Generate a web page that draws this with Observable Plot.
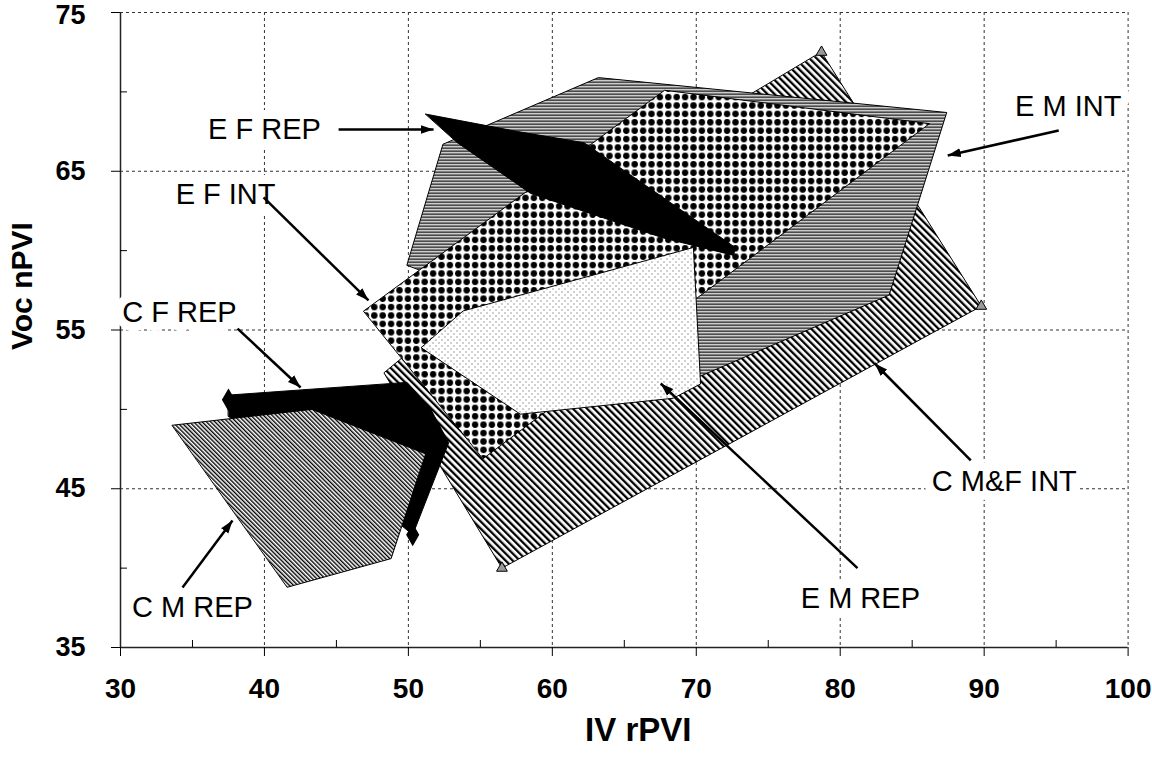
<!DOCTYPE html>
<html><head><meta charset="utf-8">
<script src="https://cdn.jsdelivr.net/npm/d3@7"></script>
<script src="https://cdn.jsdelivr.net/npm/@observablehq/plot@0.6"></script>
<style>
html,body{margin:0;padding:0;background:#fff;}
#chart{width:1152px;height:761px;}
</style>
</head><body>
<svg width="0" height="0" style="position:absolute">
<defs>
<pattern id="hatchH" patternUnits="userSpaceOnUse" width="4" height="3">
<rect width="4" height="3" fill="#fff"/><rect width="4" height="1.4" fill="#000"/>
</pattern>
<pattern id="diagWide" patternUnits="userSpaceOnUse" width="5" height="5" patternTransform="rotate(-45)">
<rect width="5" height="5" fill="#fff"/><rect width="2.3" height="5" fill="#000"/>
</pattern>
<pattern id="diagFine" patternUnits="userSpaceOnUse" width="3" height="3" patternTransform="rotate(-45)">
<rect width="3" height="3" fill="#fff"/><rect width="1.4" height="3" fill="#000"/>
</pattern>
<pattern id="bigDots" patternUnits="userSpaceOnUse" width="8.4" height="8.4">
<rect width="8.4" height="8.4" fill="#fff"/><circle cx="4.2" cy="4.2" r="3.2" fill="#000"/>
</pattern>
<pattern id="fineDots" patternUnits="userSpaceOnUse" width="6" height="6">
<rect width="6" height="6" fill="#fff"/><rect x="0" y="0" width="1" height="1" fill="#444"/><rect x="3" y="3" width="1" height="1" fill="#444"/>
</pattern>
</defs>
</svg>
<div id="chart"></div>
<script>
// ---- data ----
const cmfIntX = [78.7, 89.8, 56.5, 48.3, 66.1];
const cmfIntY = [72.5, 56.5, 40.0, 52.3, 65.7];
const emIntX = [49.9, 52.4, 63.2, 87.4, 83.4, 70.3];
const emIntY = [59.1, 66.7, 70.9, 68.7, 57.2, 52.1];
const efIntX = [46.9, 67.8, 86.2, 55.2];
const efIntY = [56.2, 70.1, 68.0, 46.9];
const emRepX = [50.9, 53.8, 69.8, 70.3, 68.4, 57.8];
const emRepY = [53.9, 56.2, 60.2, 51.6, 50.7, 49.7];
const efRepX = [51.2, 57.6, 62.2, 72.7, 72.6, 67.7, 58.5, 53.4];
const efRepY = [68.6, 67.5, 66.8, 60.2, 59.7, 60.8, 63.6, 66.8];
const cfRepX = [37.5, 49.9, 51.5, 52.8, 50.3, 49.1, 37.5];
const cfRepY = [50.9, 51.7, 50.1, 47.9, 42.1, 43.0, 49.55];
const cmRepX = [33.6, 43.3, 51.2, 48.8, 41.6];
const cmRepY = [49.0, 50.0, 47.2, 40.6, 38.8];

const labelNames = ["E F REP", "E F INT", "E M INT", "C F REP", "C M REP", "E M REP", "C M&F INT"];
const labelX = [40.0, 37.3, 95.84, 34.1, 35.0, 81.4, 91.4];
const labelY = [67.63, 63.54, 69.05, 56.07, 37.52, 38.09, 45.43];
const arrowFromX = [45.15, 39.94, 95.18, 38.13, 34.31, 81.2, 89.07];
const arrowFromY = [67.63, 63.35, 67.57, 55.09, 38.78, 40.0, 46.78];
const arrowToX = [51.75, 47.23, 87.47, 42.51, 37.78, 67.53, 82.4];
const arrowToY = [67.63, 56.86, 65.99, 51.38, 43.0, 51.63, 52.89];

const xMajor = [30, 40, 50, 60, 70, 80, 90, 100];
const xMinor = [35, 45, 55, 65, 75, 85, 95];
const yMajor = [35, 45, 55, 65, 75];
const yMinor = [40, 50, 60, 70];
const xGrid = [40, 50, 60, 70, 80, 90, 100];
const yGrid = [45, 55, 65, 75];

// vertex markers (Excel series markers)
const triX = [78.7, 89.8, 56.5];
const triY = [72.5, 56.5, 40.0];
const diaX = [37.5, 50.3];
const diaY = [50.6, 42.1];

// ---- build ----
const shapes = [
  {xs: cmfIntX, ys: cmfIntY, fill: "url(#diagWide)"},
  {xs: emIntX, ys: emIntY, fill: "url(#hatchH)"},
  {xs: efIntX, ys: efIntY, fill: "url(#bigDots)"},
  {xs: emRepX, ys: emRepY, fill: "url(#fineDots)"},
  {xs: efRepX, ys: efRepY, fill: "#000"},
  {xs: cfRepX, ys: cfRepY, fill: "#000"},
  {xs: cmRepX, ys: cmRepY, fill: "url(#diagFine)"}
];
const polyMarks = shapes.map(s => Plot.line(s.xs.map((x, i) => ({x, y: s.ys[i]})), {
  x: "x", y: "y", fill: s.fill, stroke: "#000", strokeWidth: 1, curve: "linear-closed"
}));
const labels = labelNames.map((t, i) => ({t, x: labelX[i], y: labelY[i]}));
const arrows = arrowFromX.map((x1, i) => ({x1, y1: arrowFromY[i], x2: arrowToX[i], y2: arrowToY[i]}));
const yTop = yMajor[yMajor.length - 1];

const font = "'Liberation Sans', Arial, Helvetica, sans-serif";
const chart = Plot.plot({
  width: 1152, height: 761,
  marginLeft: 120, marginRight: 24.4, marginTop: 12, marginBottom: 114,
  style: {fontFamily: font, fontSize: "28px", fontWeight: "bold", color: "#000", background: "#fff"},
  x: {domain: [30, 100], label: null},
  y: {domain: [35, 75], label: null},
  marks: [
    Plot.gridX(xGrid, {stroke: "#333", strokeOpacity: 1, strokeDasharray: "3,3", strokeWidth: 1}),
    Plot.gridY(yGrid, {stroke: "#333", strokeOpacity: 1, strokeDasharray: "3,3", strokeWidth: 1}),
    ...polyMarks,
    Plot.dot(triX.map((x, i) => ({x, y: triY[i]})), {x: "x", y: "y", symbol: "triangle", r: 4, fill: "#999", stroke: "#000", strokeWidth: 1}),
    Plot.dot(diaX.map((x, i) => ({x, y: diaY[i]})), {x: "x", y: "y", symbol: "diamond", r: 6, fill: "#000", stroke: "#000"}),
    Plot.ruleX([30], {stroke: "#222", strokeWidth: 1.5}),
    Plot.ruleY([35], {stroke: "#222", strokeWidth: 1.5}),
    Plot.axisX({ticks: xMajor, tickSize: 9, tickPadding: 22, tickFormat: d => d, label: null, fontSize: 28, fontWeight: "bold"}),
    Plot.axisX({ticks: xMinor, tickSize: 7, dy: -7, tickFormat: () => "", label: null}),
    Plot.axisY({ticks: yMajor, tickSize: 9, tickPadding: 26, tickFormat: d => (d === yTop ? "" : d), label: null, fontSize: 27, fontWeight: "bold"}),
    Plot.axisY({ticks: [yTop], tickSize: 0, tickPadding: 35, dy: 3, tickFormat: d => d, label: null, fontSize: 27, fontWeight: "bold"}),
    Plot.axisY({ticks: yMinor, tickSize: 7, dx: 7, tickFormat: () => "", label: null}),
    Plot.text(labels, {x: "x", y: "y", text: "t", fontSize: 29, fontWeight: "normal", fill: "#000",
      stroke: "#fff", strokeWidth: 18, strokeLinejoin: "round", paintOrder: "stroke"}),
    Plot.link(arrows, {x1: "x1", y1: "y1", x2: "x2", y2: "y2", stroke: "#000", strokeWidth: 2.5, markerEnd: "arrow"}),
    Plot.text(["IV rPVI"], {text: d => d, frameAnchor: "bottom", dy: 93, dx: 14, fontSize: 33, fontWeight: "bold"}),
    Plot.text(["Voc nPVI"], {text: d => d, frameAnchor: "left", dx: -98, dy: 20, rotate: -90, fontSize: 30, fontWeight: "bold"})
  ]
});
for (const m of chart.querySelectorAll("marker")) {
  m.setAttribute("viewBox", "-13 -6 14 12");
  m.setAttribute("markerUnits", "userSpaceOnUse");
  m.setAttribute("markerWidth", "14");
  m.setAttribute("markerHeight", "12");
  m.setAttribute("refX", "0");
  m.setAttribute("refY", "0");
  m.setAttribute("orient", "auto");
  m.innerHTML = '<path d="M-13,-4.5L0,0L-13,4.5Z" fill="#000" stroke="none"/>';
}
document.getElementById("chart").appendChild(chart);
</script>
</body></html>
